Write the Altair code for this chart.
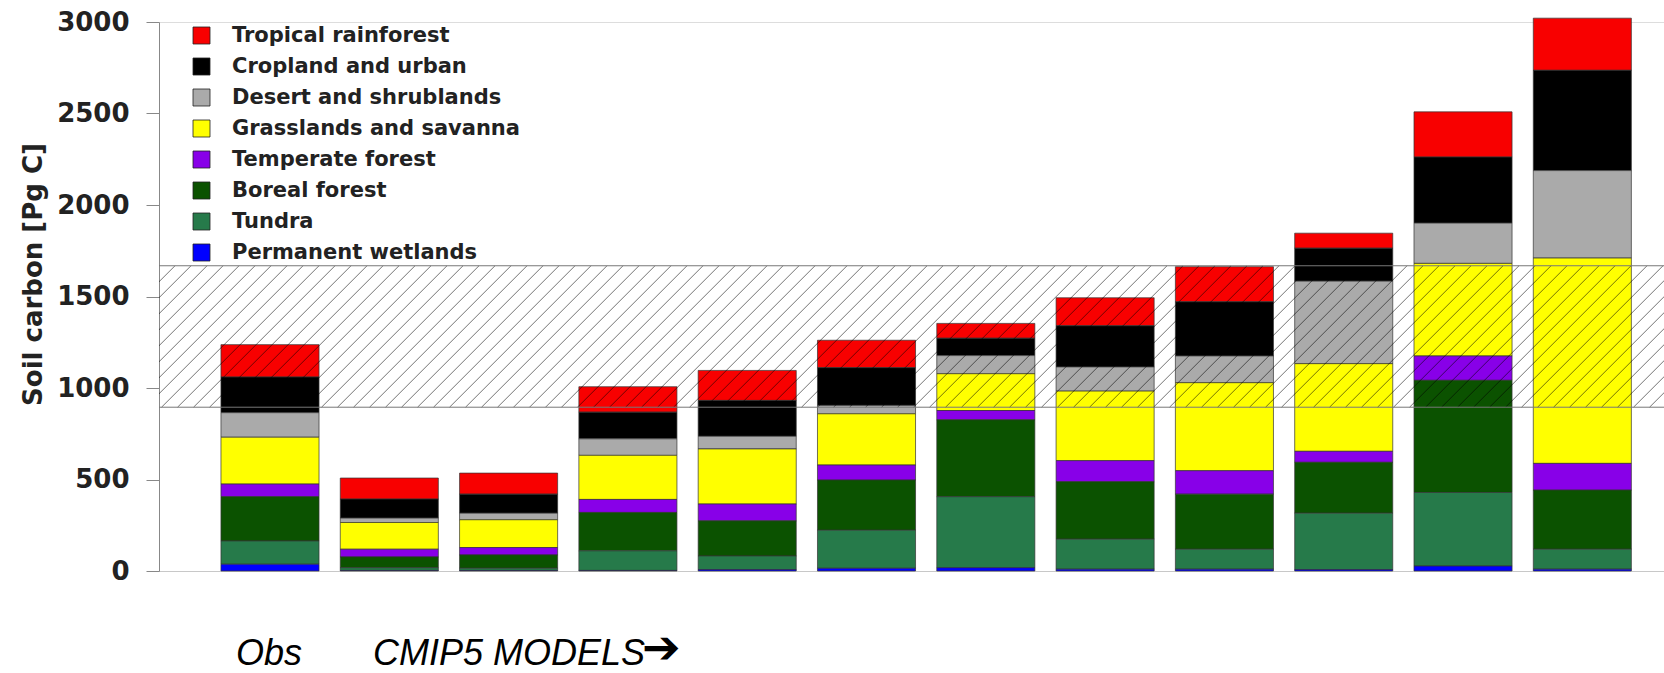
import altair as alt
import pandas as pd
import numpy as np

# ---------------- data ----------------
models = ["Obs"] + [f"Model {i}" for i in range(1, 12)]
biomes = ["Tropical rainforest", "Cropland and urban", "Desert and shrublands",
          "Grasslands and savanna", "Temperate forest", "Boreal forest",
          "Tundra", "Permanent wetlands"]
colors = ["#F80000", "#000000", "#AAAAAA", "#FFFF00", "#8800E8", "#0B5200",
          "#267A4A", "#0000FF"]

wetlands  = [37, 3, 3, 3, 8, 15, 18, 10, 10, 8, 27, 10]
tundra    = [127, 15, 12, 107, 74, 208, 388, 164, 109, 308, 402, 109]
boreal    = [242, 59, 73, 210, 192, 274, 420, 314, 301, 278, 613, 323]
temperate = [69, 42, 40, 71, 92, 82, 51, 115, 128, 60, 133, 146]
grass     = [256, 146, 152, 241, 301, 280, 201, 380, 481, 479, 506, 1122]
desert    = [134, 24, 36, 90, 69, 46, 99, 132, 146, 451, 220, 478]
cropland  = [195, 104, 104, 146, 196, 206, 95, 225, 296, 180, 361, 548]
tropical  = [177, 115, 115, 139, 164, 150, 81, 153, 192, 82, 247, 285]

band_range = [895, 1668]          # observational uncertainty range (hatched)
y_ticks = [0, 500, 1000, 1500, 2000, 2500, 3000]
annot_obs = "Obs"
annot_models = "CMIP5 MODELS"
annot_arrow = "\u2794"

# ---------------- layout ----------------
W, H = 1505, 549
series = [tropical, cropland, desert, grass, temperate, boreal, tundra, wetlands]
rows = []
for b, vals in zip(biomes, series):
    for m, v in zip(models, vals):
        rows.append({"model": m, "biome": b, "value": v,
                     "rank": len(biomes) - 1 - biomes.index(b)})
df = pd.DataFrame(rows)

yscale = alt.Scale(domain=[0, 3000], nice=False, zero=True)
yaxis = alt.Axis(values=y_ticks, format="d", title="Soil carbon [Pg C]", grid=False,
                 labelFont="DejaVu Sans", labelFontWeight="bold", labelFontSize=26,
                 labelColor="#222", labelPadding=17, tickSize=13, tickColor="#888",
                 domainColor="#888", titleFont="DejaVu Sans", titleFontWeight="bold",
                 titleFontSize=26, titleColor="#222", titleAngle=270,
                 titleAlign="center", titleBaseline="middle", titleX=-126, titleY=252)

bars = alt.Chart(df).mark_bar(stroke="#333", strokeWidth=0.7).encode(
    x=alt.X("model:N", sort=models,
            scale=alt.Scale(paddingInner=0.178, paddingOuter=0.3965, align=0.655),
            axis=alt.Axis(labels=False, ticks=False, title=None, domainColor="#c8c8c8")),
    y=alt.Y("sum(value):Q", stack="zero", scale=yscale, axis=yaxis),
    color=alt.Color("biome:N", scale=alt.Scale(domain=biomes, range=colors),
                    legend=alt.Legend(title=None, orient="none", legendX=32, legendY=3,
                                      symbolType="square", symbolSize=289,
                                      symbolStrokeColor="#222", symbolStrokeWidth=0.8,
                                      labelFont="DejaVu Sans", labelFontWeight="bold",
                                      labelFontSize=21, labelColor="#222", labelLimit=0,
                                      labelOffset=20, rowPadding=9, padding=0)),
    order=alt.Order("rank:Q", sort="ascending"),
)

# hatch lines (45 degrees in pixel space), clipped to plot area
band_px = (band_range[1] - band_range[0]) * H / 3000.0
starts = np.arange(-band_px, W + 16, 16)
hatch_df = pd.DataFrame({"hx": starts, "hx2": starts + band_px,
                         "lo": band_range[0], "hi": band_range[1]})
hatch = alt.Chart(hatch_df).mark_rule(clip=True, color="black", opacity=0.55,
                                      strokeWidth=1).encode(
    x=alt.X("hx:Q", scale=alt.Scale(domain=[0, W], nice=False, zero=False), axis=None),
    x2="hx2:Q",
    y=alt.Y("lo:Q", scale=yscale, axis=yaxis),
    y2="hi:Q",
)

edges = alt.Chart(pd.DataFrame({"edge": band_range})).mark_rule(
    color="#777", strokeWidth=1).encode(
    y=alt.Y("edge:Q", scale=yscale, axis=yaxis))

txt_style = dict(font="Liberation Sans", fontStyle="italic", fontSize=36,
                 align="left", baseline="middle", color="#000")
t1 = alt.Chart(pd.DataFrame({"t": [annot_obs]})).mark_text(**txt_style).encode(
    text="t:N", x=alt.value(77), y=alt.value(632))
t2 = alt.Chart(pd.DataFrame({"t": [annot_models]})).mark_text(**txt_style).encode(
    text="t:N", x=alt.value(214), y=alt.value(632))
t3 = alt.Chart(pd.DataFrame({"t": [annot_arrow]})).mark_text(
    font="DejaVu Sans", fontWeight="bold", fontSize=46, align="left",
    baseline="middle", color="#000").encode(
    text="t:N", x=alt.value(483), y=alt.value(627))

chart = alt.layer(bars, hatch, edges, t1, t2, t3).resolve_scale(
    x="independent").properties(
    width=W, height=H,
    padding={"left": 159, "top": 22, "right": 0, "bottom": 102},
    autosize=alt.AutoSizeParams(type="none"),
).configure_view(stroke=None).configure(background="white")

chart.save("out.html", embed_options={"renderer": "svg", "actions": False})
